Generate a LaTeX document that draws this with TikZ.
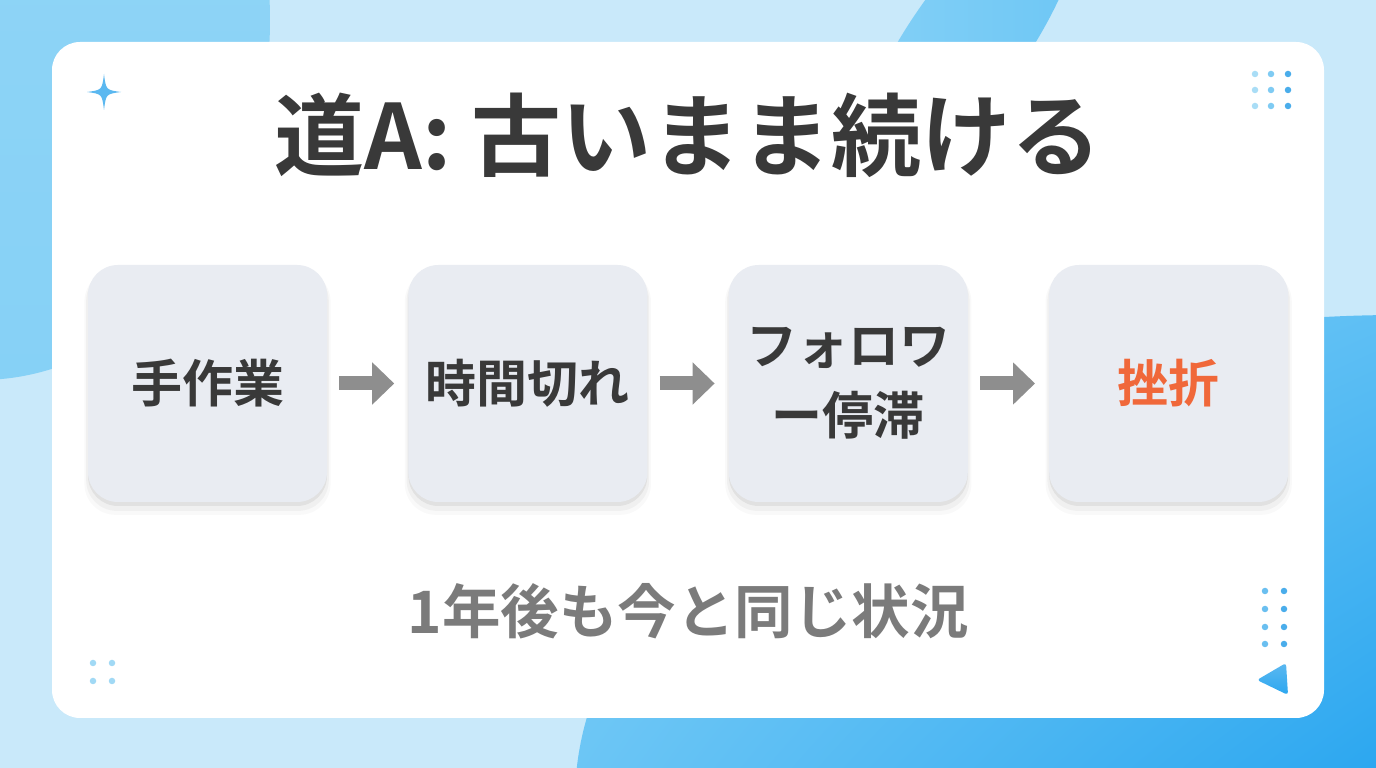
\documentclass[tikz,border=0pt]{standalone}
\usepackage{fontspec}
\setmainfont{Noto Sans CJK JP}[BoldFont={Noto Sans CJK JP Bold}]
\usetikzlibrary{positioning,arrows.meta,shadows,shadings}

\definecolor{skybase}{HTML}{C9E9FA}
\definecolor{skyblob}{HTML}{86D1F6}
\definecolor{skyblobdark}{HTML}{6CC6F5}
\definecolor{skydeep}{HTML}{2CA7F0}
\definecolor{cardgray}{HTML}{E9ECF2}
\definecolor{inkdark}{HTML}{393939}
\definecolor{inkgray}{HTML}{7B7B7B}
\definecolor{arrowgray}{HTML}{8E8E8E}
\definecolor{failorange}{HTML}{F0683A}
\definecolor{dotlight}{HTML}{A9DDF6}
\definecolor{dotmid}{HTML}{7FCBF3}
\definecolor{dotdeep}{HTML}{4AADEB}
\definecolor{sparkblue}{HTML}{5BB8F0}

\begin{document}
\begin{tikzpicture}[
		x=1pt, y=1pt,
		stepcard/.style={draw=none, fill=cardgray, rounded corners=30pt,
				minimum width=239pt, minimum height=237pt, align=center,
				text=inkdark, font=\bfseries\fontsize{51}{70}\selectfont,
				drop shadow={shadow xshift=0pt, shadow yshift=-9pt, shadow scale=1.03, opacity=0.025, fill=black},
				drop shadow={shadow xshift=0pt, shadow yshift=-7pt, shadow scale=1.015, opacity=0.035, fill=black},
				drop shadow={shadow xshift=0pt, shadow yshift=-4pt, opacity=0.06, fill=black}},
		flowarrow/.style={draw=arrowgray, line width=14pt,
				-{Triangle[length=22pt, width=41pt]},
				shorten <=12pt, shorten >=14pt},
		dot/.style={circle, inner sep=0pt, minimum size=6.5pt},
		node distance=81pt
	]
	% background
	\useasboundingbox (0,0) rectangle (1376,768);
	\fill[skybase] (0,0) rectangle (1376,768);
	\begin{scope}
		\clip (0,0) rectangle (1376,768);
		\shade[top color=skyblob!80!skybase, bottom color=skyblob] (-20,748) ellipse [x radius=290pt, y radius=360pt];
		\shade[left color=skyblob, right color=skyblobdark, rotate around={55:(968,728)}]
			(968,728) ellipse [x radius=180pt, y radius=58pt];
		\begin{scope}
			\clip (1400,-32) ellipse [x radius=825pt, y radius=485pt];
			\shade[upper left=skyblob, upper right=skyblobdark!80!skydeep,
				lower left=skyblobdark, lower right=skydeep] (570,0) rectangle (1376,460);
		\end{scope}
	\end{scope}

	% white card
	\fill[white, rounded corners=28pt] (52,50) rectangle (1324,726);

	% title
	\node[text=inkdark, font=\bfseries\fontsize{90}{100}\selectfont] (title) at (688,633) {道A: 古いまま続ける};

	% the four steps
	\node[stepcard] (manual) at (207.5,384.5) {手作業};
	\node[stepcard, right=of manual] (timeout) {時間切れ};
	\node[stepcard, right=of timeout] (stall) {フォロワ\\ー停滞};
	\node[stepcard, right=of stall, text=failorange] (quit) {挫折};

	\draw[flowarrow] (manual) -- (timeout);
	\draw[flowarrow] (timeout) -- (stall);
	\draw[flowarrow] (stall) -- (quit);

	% bottom note
	\node[text=inkgray, font=\bfseries\fontsize{58.5}{60}\selectfont] (note) at (688,157) {1年後も今と同じ状況};

	% decorations
	\fill[sparkblue, shift={(104,676)}]
		(0,18) .. controls (2,2) .. (17,0) .. controls (2,-2) .. (0,-18)
		.. controls (-2,-2) .. (-17,0) .. controls (-2,2) .. (0,18);
	\foreach \y in {694,678,662} {
		\node[dot, fill=dotlight] at (1255,\y) {};
		\node[dot, fill=dotmid] at (1271,\y) {};
		\node[dot, fill=dotdeep] at (1288,\y) {};
	}
	\foreach \x in {93,112}
		\foreach \y in {105,87}
			\node[dot, fill=dotlight!80!dotmid] at (\x,\y) {};
	\foreach \y in {177,159,141,124} {
		\node[dot, fill=dotmid!60!dotdeep] at (1265,\y) {};
		\node[dot, fill=dotdeep] at (1284,\y) {};
	}
	\shade[top color=sparkblue, bottom color=skydeep, rounded corners=3pt]
		(1257,88) -- (1286,105) -- (1288,73) -- cycle;
\end{tikzpicture}
\end{document}
